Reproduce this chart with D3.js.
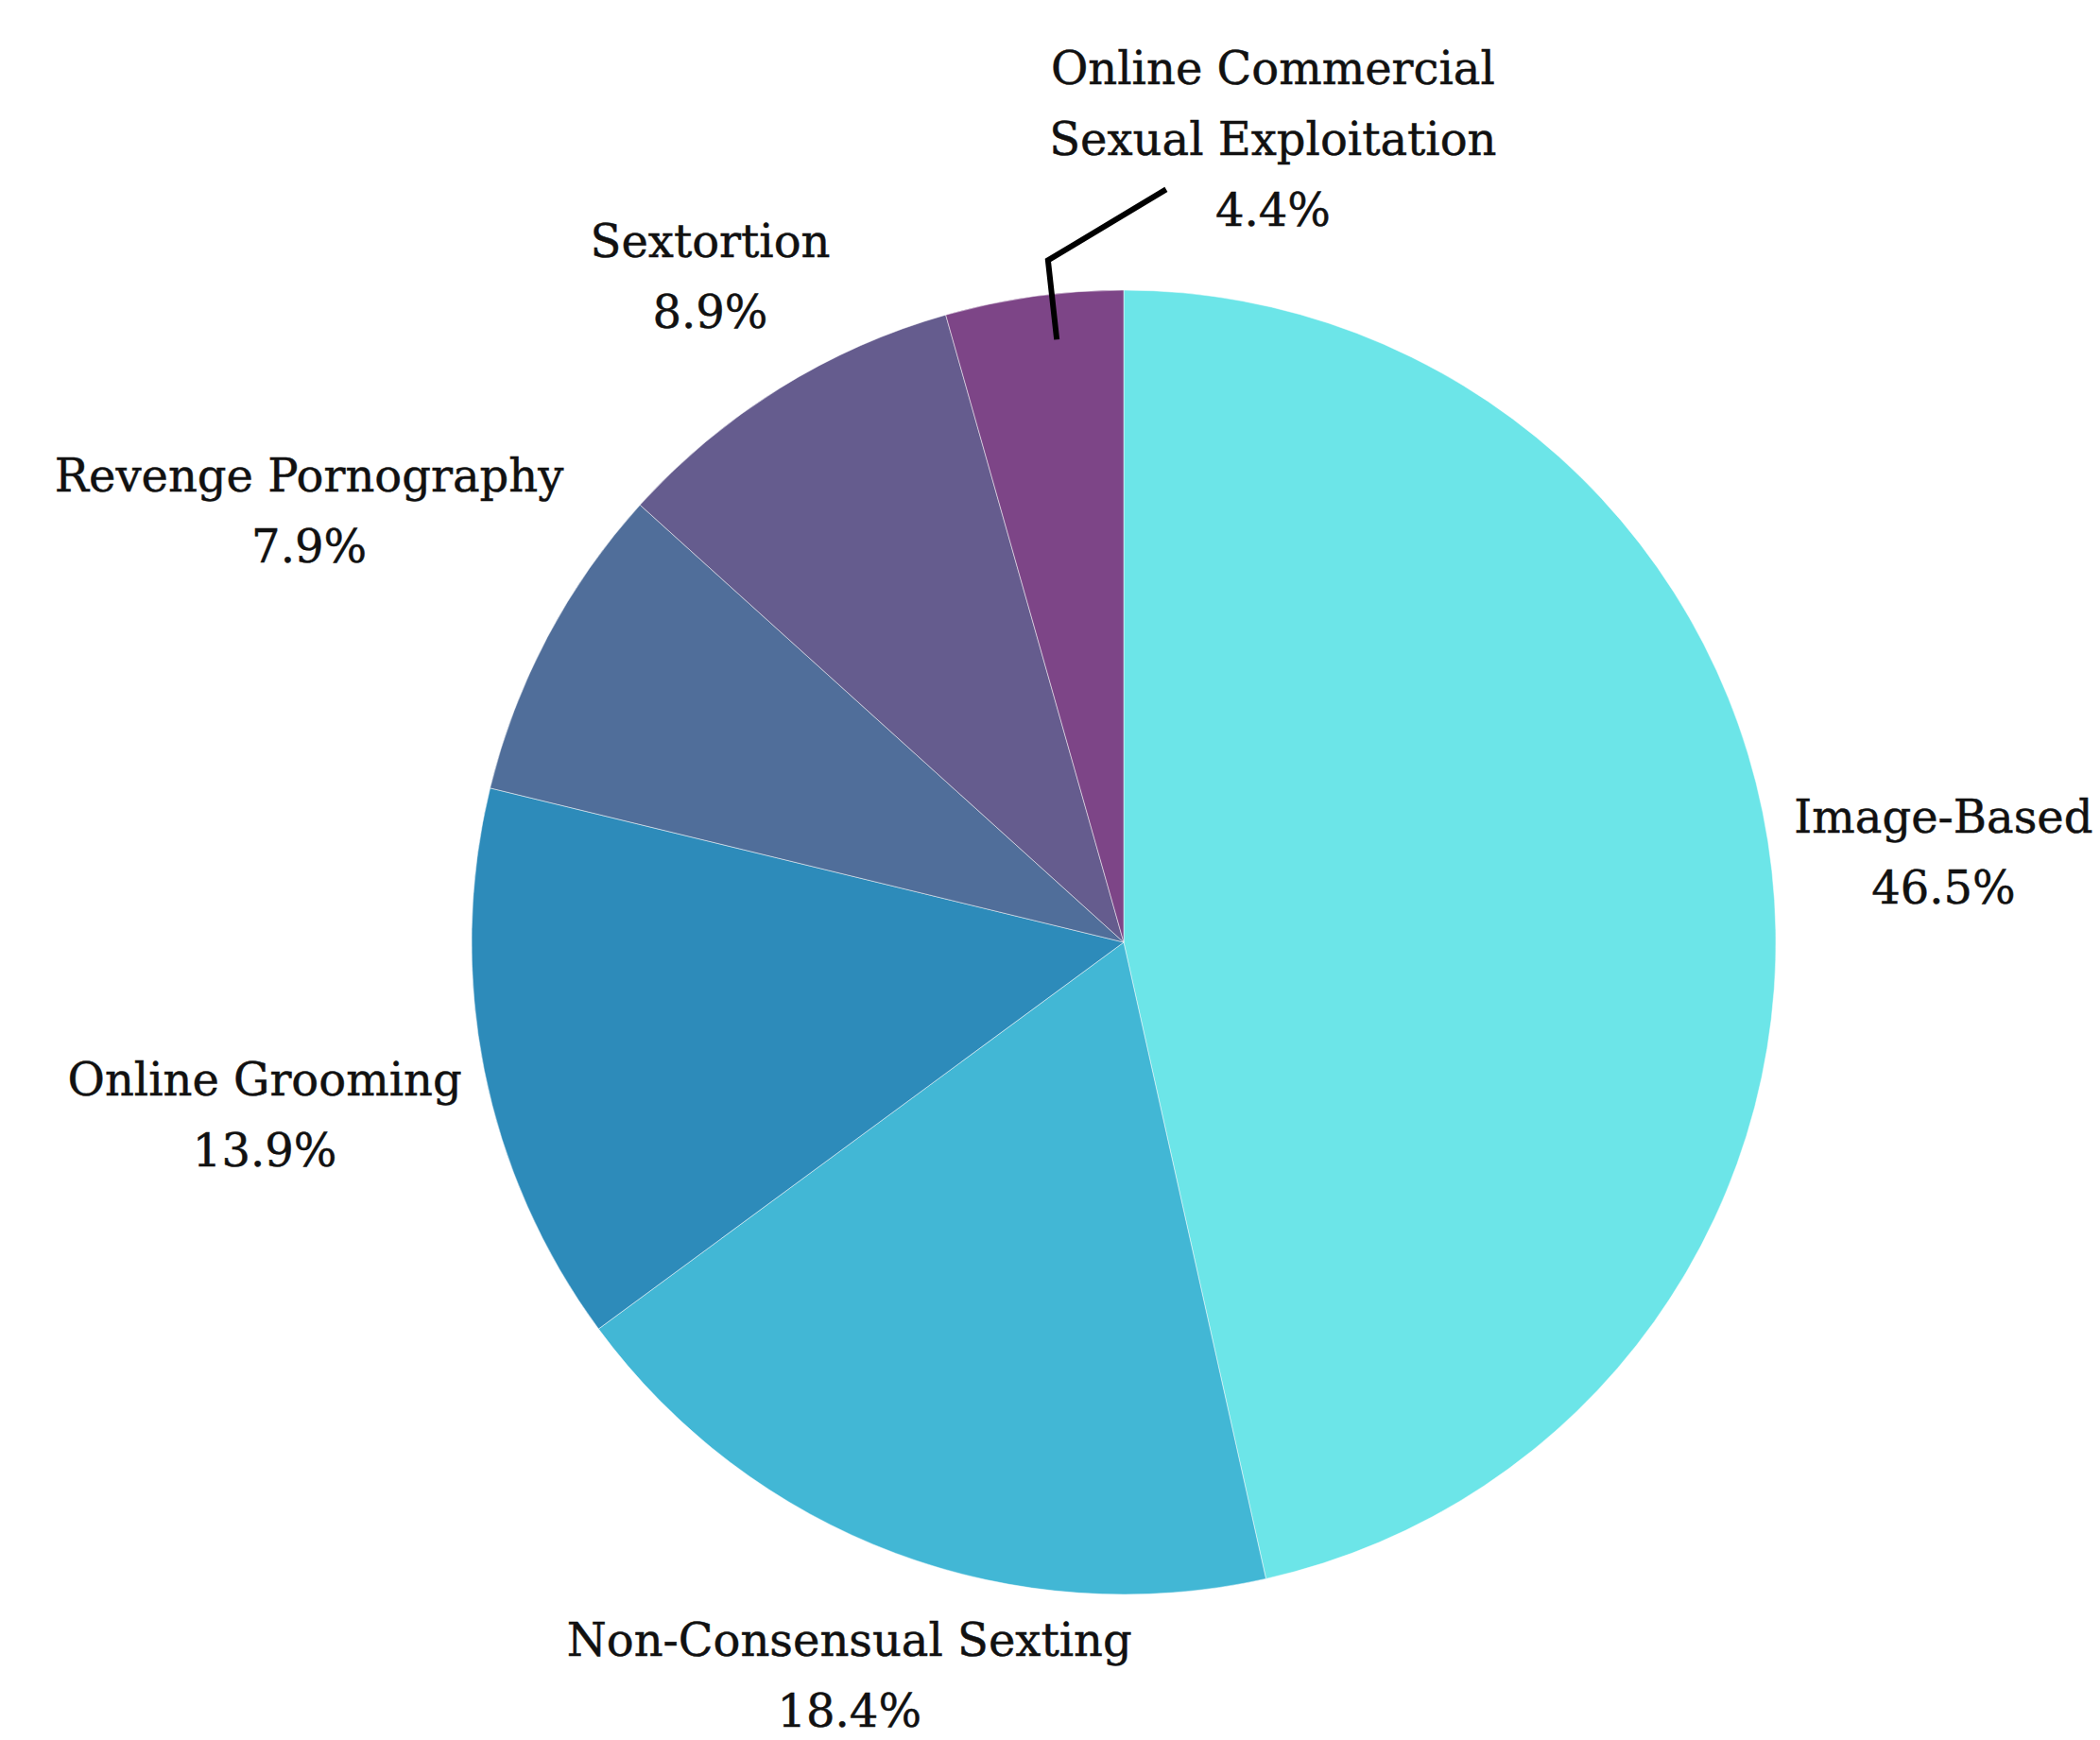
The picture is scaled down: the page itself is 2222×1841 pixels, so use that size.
<!DOCTYPE html>
<html>
<head>
<meta charset="utf-8">
<script src="https://cdn.jsdelivr.net/npm/d3@7"></script>
<style>
  body { margin: 0; background: #fff; }
  svg { display: block; }
</style>
</head>
<body>
<svg id="chart"></svg>
<script>
const width = 2222;
const height = 1841;

// data (percent of cases)
const categories = [
  "Image-Based",
  "Non-Consensual Sexting",
  "Online Grooming",
  "Revenge Pornography",
  "Sextortion",
  "Online Commercial Sexual Exploitation"
];
const shares = [46.5, 18.4, 13.9, 7.9, 8.9, 4.4];
const sliceColors = ["#6ce5e8", "#42b7d5", "#2d8bba", "#506e9a", "#655c8e", "#7d4587"];

const cx = 1189;
const cy = 997;
const radius = 690;
const fontSize = 48;
const lineHeight = 75;
const labelPad = 20;

const svg = d3.select("#chart").attr("width", width).attr("height", height);
svg.append("rect").attr("width", width).attr("height", height).attr("fill", "#fff");

const g = svg.append("g").attr("transform", `translate(${cx},${cy})`);

const rows = categories.map((c, i) => ({ name: c, value: shares[i], color: sliceColors[i] }));
const total = d3.sum(shares);

const pie = d3.pie().sort(null).value(d => d.value);
const arc = d3.arc().innerRadius(0).outerRadius(radius);
const arcs = pie(rows);

g.selectAll("path.slice")
  .data(arcs)
  .enter()
  .append("path")
  .attr("class", "slice")
  .attr("d", arc)
  .attr("fill", d => d.data.color)
  .attr("stroke", "#fff")
  .attr("stroke-opacity", 0.6)
  .attr("stroke-width", 0.8);

// split long names into two lines
function wrap(name) {
  if (name.length <= 24) return [name];
  const words = name.split(" ");
  const half = Math.ceil(words.length / 2);
  return [words.slice(0, half).join(" "), words.slice(half).join(" ")];
}

const fmt = v => (v / total * 100).toFixed(1) + "%";

arcs.forEach(function (d) {
  const mid = (d.startAngle + d.endAngle) / 2;
  const ux = Math.sin(mid);
  const uy = -Math.cos(mid);
  const lines = wrap(d.data.name).concat([fmt(d.data.value)]);

  const label = g.append("text")
    .attr("font-family", "'DejaVu Serif', serif")
    .attr("font-size", fontSize)
    .attr("fill", "#111")
    .attr("stroke", "#111")
    .attr("stroke-width", 0.5)
    .attr("text-anchor", "middle");

  lines.forEach(function (t, i) {
    label.append("tspan")
      .attr("x", 0)
      .attr("y", (i - (lines.length - 1) / 2) * lineHeight)
      .attr("dy", "0.35em")
      .text(t);
  });

  const bb = label.node().getBBox();
  const hw = bb.width / 2;
  const hh = bb.height / 2;

  let px, py;
  if (d.data.value < 5) {
    // small slice: callout with a bent leader line
    const a = d.endAngle - 0.4 * (d.endAngle - d.startAngle);
    const vx = Math.sin(a), vy = -Math.cos(a);
    const s = [vx * radius * 0.93, vy * radius * 0.93];
    const e = [vx * (radius + 36), vy * (radius + 36)];
    const f = [e[0] + 125, e[1] - 75];
    g.append("path")
      .attr("d", d3.line()([s, e, f]))
      .attr("fill", "none")
      .attr("stroke", "#000")
      .attr("stroke-width", 6);
    px = f[0] + 113;
    py = f[1] - 53;
  } else {
    // push the label box out along the ray until it clears the pie
    let lo = 0, hi = radius * 2;
    for (let k = 0; k < 40; k++) {
      const m = (lo + hi) / 2;
      const dx = Math.max(Math.abs(ux * m) - hw, 0);
      const dy = Math.max(Math.abs(uy * m) - hh, 0);
      if (Math.hypot(dx, dy) < radius + labelPad) lo = m; else hi = m;
    }
    px = ux * hi;
    py = uy * hi;
  }
  label.attr("transform", `translate(${px},${py})`);
});
</script>
</body>
</html>
